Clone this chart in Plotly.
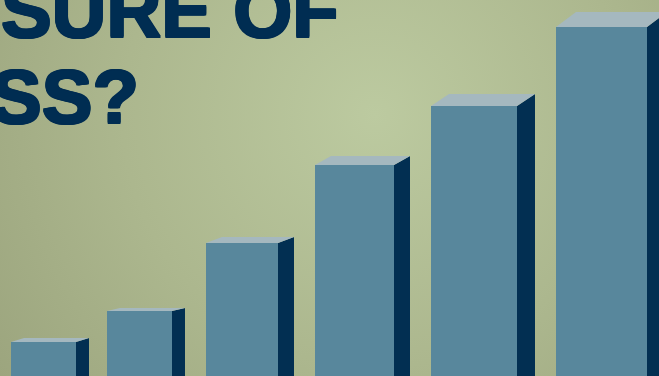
import plotly.graph_objects as go

# ---- data (bar heights; baseline = bottom edge) ----
bar_values = [34, 65, 133, 211, 270, 349]
title_line1 = "MEASURE OF"
title_line2 = "SUCCESS?"

# ---- layout / style (positions, sizes, perspective depths) ----
bar_centers = [43.5, 139.5, 242, 354.5, 474, 601.5]
bar_widths = [65, 65, 72, 79, 86, 91]
depth_x = [13, 13, 16, 16, 18, 20]
depth_y = [4, 3, 6, 9, 12, 15]

W, H = 659, 376
FRONT = "#58879c"
SIDE = "#022f52"
TOP = "#a5b8bf"
TEXT = "#002d52"

fig = go.Figure()

# background radial gradient (polygon centred on the light spot)
cx, cy, R = 375, H - 115, 560
fig.add_trace(go.Scatter(
    x=[cx - R, cx + R, cx + R, cx - R, cx - R],
    y=[cy - R, cy - R, cy + R, cy + R, cy - R],
    mode="lines", line=dict(width=0), fill="toself",
    fillgradient=dict(type="radial",
                      colorscale=[[0, "#bccaa0"], [0.45, "#acb78e"], [1, "#949c76"]]),
    hoverinfo="skip", showlegend=False))

# bars: front, side and top faces, all placed on the axes from bar_values
for c, w, v, dx, dy in zip(bar_centers, bar_widths, bar_values, depth_x, depth_y):
    xl, xr = c - w / 2, c + w / 2
    fig.add_trace(go.Scatter(
        x=[xl, xr, xr, xl, xl], y=[0, 0, v, v, 0],
        mode="lines", line=dict(width=0), fill="toself", fillcolor=FRONT,
        hoverinfo="skip", showlegend=False))
    fig.add_trace(go.Scatter(
        x=[xr, xr, xr + dx, xr + dx, xr], y=[0, v, v + dy, 0, 0],
        mode="lines", line=dict(width=0), fill="toself", fillcolor=SIDE,
        hoverinfo="skip", showlegend=False))
    fig.add_trace(go.Scatter(
        x=[xl, xr, xr + dx, xl + dx, xl], y=[v, v, v + dy, v + dy, v],
        mode="lines", line=dict(width=0), fill="toself", fillcolor=TOP,
        hoverinfo="skip", showlegend=False))

thick = ", ".join(f"{a}px {b}px 0 {TEXT}" for a, b in
                  [(1, 0), (-1, 0), (0, 1), (0, -1), (1, 1), (-1, -1), (1, -1), (-1, 1)])
font = dict(family="Liberation Sans, Arial, sans-serif", size=76, color=TEXT,
            weight="bold", shadow=thick)
fig.add_annotation(x=341, y=H - 10, xref="x", yref="y", text=title_line1,
                   showarrow=False, xanchor="right", yanchor="middle", font=font)
fig.add_annotation(x=141, y=H - 96, xref="x", yref="y", text=title_line2,
                   showarrow=False, xanchor="right", yanchor="middle", font=font)

fig.update_layout(
    width=W, height=H, margin=dict(l=0, r=0, t=0, b=0),
    paper_bgcolor="#a8b28b", plot_bgcolor="#a8b28b",
    xaxis=dict(range=[0, W], visible=False, fixedrange=True),
    yaxis=dict(range=[0, H], visible=False, fixedrange=True),
    showlegend=False,
)

fig.write_html("out.html", config={"staticPlot": True})
